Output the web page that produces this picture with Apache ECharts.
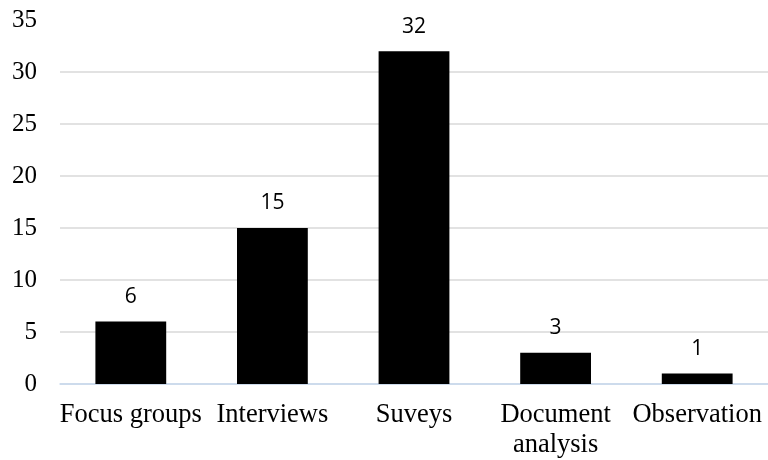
<!DOCTYPE html>
<html>
<head>
<meta charset="utf-8">
<script src="https://cdn.jsdelivr.net/npm/echarts@6/dist/echarts.min.js"></script>
<style>
  html, body { margin: 0; padding: 0; background: #fff; }
  #chart { width: 768px; height: 460px; }
</style>
</head>
<body>
<div id="chart"></div>
<script>
var categories = ['Focus groups', 'Interviews', 'Suveys', 'Document\nanalysis', 'Observation']
var counts = [6, 15, 32, 3, 1]

var chart = echarts.init(document.getElementById('chart'))
chart.setOption({
  animation: false,
  grid: {
    left: 60,
    right: -7,
    top: 20,
    bottom: 76
  },
  xAxis: {
    type: 'category',
    data: categories,
    axisTick: { show: false },
    axisLine: { lineStyle: { color: '#c6d9f0', width: 1.5 } },
    axisLabel: {
      interval: 0,
      margin: 16,
      color: '#000',
      fontFamily: 'Liberation Serif',
      fontSize: 26.5,
      lineHeight: 30
    }
  },
  yAxis: {
    type: 'value',
    min: 0,
    max: 35,
    interval: 5,
    axisLine: { show: false },
    axisTick: { show: false },
    axisLabel: {
      margin: 23,
      color: '#000',
      fontFamily: 'Liberation Serif',
      fontSize: 25
    },
    splitLine: {
      lineStyle: {
        // no line drawn at the top value
        color: ['#d9d9d9', '#d9d9d9', '#d9d9d9', '#d9d9d9', '#d9d9d9', '#d9d9d9', '#d9d9d9', 'rgba(0,0,0,0)'],
        width: 1.5
      }
    }
  },
  series: [{
    type: 'bar',
    data: counts,
    barWidth: '50%',
    itemStyle: { color: '#000' },
    label: {
      show: true,
      position: 'top',
      distance: 14,
      color: '#000',
      fontFamily: 'Open Sans',
      fontSize: 21
    }
  }]
})
</script>
</body>
</html>
